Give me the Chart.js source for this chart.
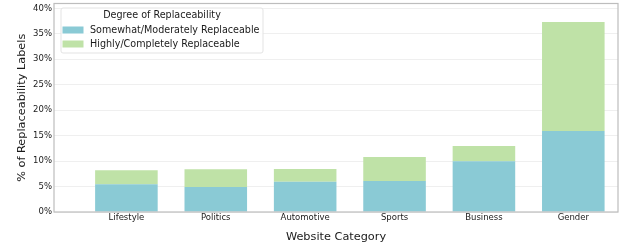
<!DOCTYPE html>
<html>
<head>
<meta charset="utf-8">
<script src="https://cdn.jsdelivr.net/npm/chart.js@4/dist/chart.umd.min.js"></script>
<style>
  html, body { margin: 0; padding: 0; background: #fff; }
  canvas { display: block; }
</style>
</head>
<body>
<canvas id="chart" width="621" height="244"></canvas>
<script>
const categories = ['Lifestyle', 'Politics', 'Automotive', 'Sports', 'Business', 'Gender'];
const somewhatModerate = [5.45, 4.9, 5.95, 6.1, 9.95, 15.9];
const highlyCompletely = [2.75, 3.5, 2.5, 4.7, 3.0, 21.4];
const yTicks = [0, 5, 10, 15, 20, 25, 30, 35, 40];

const FONT = 'DejaVu Sans';

// frame around the plot + legend box in the upper left
const framePlugin = {
    id: 'frame',
    afterDraw: (chart) => {
        const { ctx, chartArea } = chart;
        ctx.save();
        ctx.strokeStyle = '#bdbdbd';
        ctx.lineWidth = 1.2;
        ctx.strokeRect(chartArea.left, chartArea.top, chartArea.right - chartArea.left, chartArea.bottom - chartArea.top);

        // legend
        const x = chartArea.left + 7, y = chartArea.top + 4.5;
        const w = 202, h = 45;
        ctx.fillStyle = 'rgba(255,255,255,0.85)';
        ctx.strokeStyle = '#e3e3e3';
        ctx.lineWidth = 1;
        ctx.beginPath();
        ctx.roundRect(x, y, w, h, 2);
        ctx.fill();
        ctx.stroke();

        ctx.fillStyle = '#1a1a1a';
        ctx.font = '9.6px "' + FONT + '"';
        ctx.textBaseline = 'middle';
        ctx.textAlign = 'center';
        ctx.fillText('Degree of Replaceability', x + w / 2, y + 7.5);
        ctx.textAlign = 'left';
        chart.data.datasets.forEach((ds, i) => {
            const ly = y + 22 + i * 14;
            ctx.fillStyle = ds.backgroundColor;
            ctx.fillRect(x + 1.5, ly - 3.5, 21, 7);
            ctx.fillStyle = '#1a1a1a';
            ctx.fillText(ds.label, x + 29, ly);
        });
        ctx.restore();
    }
};

const ctx = document.getElementById('chart').getContext('2d');
const myChart = new Chart(ctx, {
    type: 'bar',
    data: {
        datasets: [
            {
                label: 'Somewhat/Moderately Replaceable',
                data: somewhatModerate.map((v, i) => ({ x: i, y: v })),
                backgroundColor: '#8acad5',
                borderWidth: 0,
                barPercentage: 0.7,
                categoryPercentage: 1.0
            },
            {
                label: 'Highly/Completely Replaceable',
                data: highlyCompletely.map((v, i) => ({ x: i, y: v })),
                backgroundColor: '#bfe2a7',
                borderWidth: 0,
                barPercentage: 0.7,
                categoryPercentage: 1.0
            }
        ]
    },
    options: {
        responsive: false,
        animation: false,
        layout: { padding: { top: 3.5, right: 3, left: 0, bottom: 0 } },
        plugins: {
            legend: { display: false },
            tooltip: { enabled: false }
        },
        scales: {
            x: {
                type: 'linear',
                stacked: true,
                min: -0.81,
                max: 5.5,
                offset: false,
                afterBuildTicks: (scale) => {
                    scale.ticks = categories.map((c, i) => ({ value: i }));
                },
                afterFit: (scale) => {
                    scale.height = 32;
                    scale.paddingLeft = 0;
                    scale.paddingRight = 0;
                },
                grid: { display: false, drawTicks: false },
                border: { display: false },
                ticks: {
                    padding: 1,
                    color: '#1a1a1a',
                    font: { family: FONT, size: 8.5 },
                    callback: (v) => categories[v],
                    maxRotation: 0,
                    autoSkip: false
                },
                title: {
                    display: true,
                    text: 'Website Category',
                    color: '#1a1a1a',
                    font: { family: FONT, size: 11.3 },
                    padding: { top: 4, bottom: 0 }
                }
            },
            y: {
                stacked: true,
                min: 0,
                max: 40.95,
                afterBuildTicks: (scale) => {
                    scale.ticks = yTicks.map(v => ({ value: v }));
                },
                afterFit: (scale) => {
                    scale.width = 54;
                    scale.paddingTop = 0;
                    scale.paddingBottom = 0;
                },
                grid: { color: '#efefef', lineWidth: 1, drawTicks: false },
                border: { display: false },
                ticks: {
                    padding: 2,
                    color: '#1a1a1a',
                    font: { family: FONT, size: 8.5 },
                    callback: (v) => v + '%'
                },
                title: {
                    display: true,
                    text: '% of Replaceability Labels',
                    color: '#1a1a1a',
                    font: { family: FONT, size: 11.3 },
                    padding: { top: 15, bottom: 0 }
                }
            }
        }
    },
    plugins: [framePlugin]
});
</script>
</body>
</html>
